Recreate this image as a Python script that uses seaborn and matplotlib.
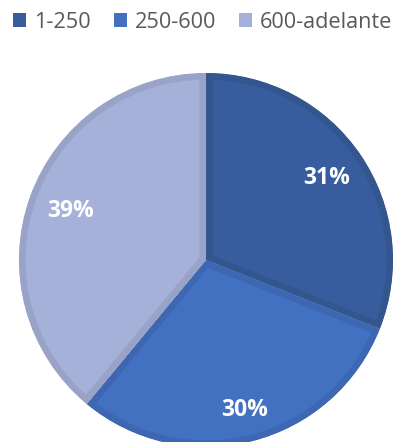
import matplotlib
matplotlib.use("Agg")
import matplotlib.pyplot as plt
import seaborn as sns

categories = ["1-250", "250-600", "600-adelante"]
values = [31, 30, 39]
face_colors = ["#375D9F", "#4371C1", "#A5B1D9"]
edge_colors = ["#33568F", "#3D67B1", "#99A3C7"]
label_dist = [0.78, 0.83, 0.77]

sns.set_theme(style="white")
plt.rcParams["font.family"] = ["Open Sans", "DejaVu Sans"]

W, H = 405, 442
fig = plt.figure(figsize=(W / 100, H / 100), dpi=100)
ax = fig.add_axes([0, 0, 1, 1])

cx, cy, R = 206, 260, 187  # pixel centre (from top) and radius

wedges, texts, autotexts = ax.pie(
    values, colors=face_colors, startangle=90, counterclock=False,
    autopct="%.0f%%", pctdistance=0.8,
    wedgeprops=dict(linewidth=0),
    textprops=dict(color="white", fontsize=16.5, fontweight="bold"),
)
for w, ec in zip(wedges, edge_colors):
    w.set_edgecolor(ec)
    w.set_linewidth(9.5)
    w.set_joinstyle("miter")
    w.set_clip_on(True)
    w.set_clip_path(w.get_path(), w.get_transform())

for t, d in zip(autotexts, label_dist):
    x, y = t.get_position()
    s = d / 0.8
    t.set_position((x * s, y * s))

ax.set_aspect("auto")
ax.set_xlim(-cx / R, (W - cx) / R)
ax.set_ylim(-(H - cy) / R, cy / R)
ax.axis("off")

leg = fig.legend(
    wedges, categories, loc="center left",
    bbox_to_anchor=(13 / W, 1 - 22 / H), ncol=3, frameon=False,
    fontsize=15.6, handlelength=0.6, handleheight=0.6, handletextpad=0.38,
    columnspacing=1.05, borderpad=0, borderaxespad=0,
    labelcolor="#595959",
)
for h, c in zip(leg.legend_handles, face_colors):
    h.set_facecolor(c)
    h.set_edgecolor(c)
    h.set_linewidth(0)
    h.set_clip_on(False)
    h.set_clip_path(None)

fig.savefig("out.png", dpi=100)
